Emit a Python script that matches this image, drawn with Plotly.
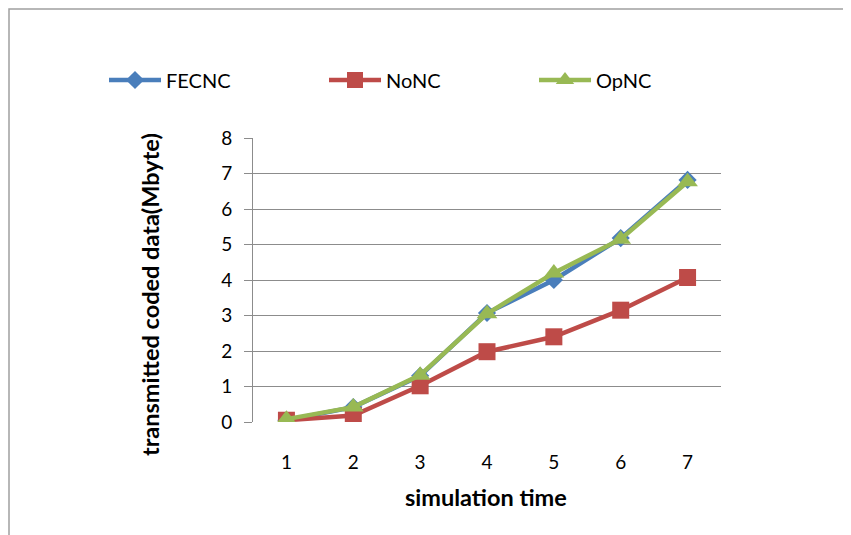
import plotly.graph_objects as go

x = [1, 2, 3, 4, 5, 6, 7]
fecnc = [0.05, 0.42, 1.3, 3.07, 4.0, 5.18, 6.82]
nonc = [0.05, 0.18, 1.02, 1.98, 2.4, 3.15, 4.07]
opnc = [0.08, 0.42, 1.32, 3.05, 4.2, 5.15, 6.77]

blue = "#4A7EBB"
red = "#BE4B48"
green = "#98B954"

fig = go.Figure()
fig.add_trace(go.Scatter(x=x, y=fecnc, name="FECNC", mode="lines+markers",
                         line=dict(color=blue, width=4.5), legend="legend",
                         marker=dict(symbol="diamond", size=14, color=blue)))
fig.add_trace(go.Scatter(x=x, y=nonc, name="NoNC", mode="lines+markers",
                         line=dict(color=red, width=4.5), legend="legend2",
                         marker=dict(symbol="square", size=17, color=red)))
fig.add_trace(go.Scatter(x=x, y=opnc, name="OpNC", mode="lines+markers",
                         line=dict(color=green, width=4.5), legend="legend3",
                         marker=dict(symbol="triangle-up", size=18, color=green)))

OFF = 8  # page offset of the rendered figure
W, H = 851, 535
# target plot area in screenshot pixels
PX0, PX1, PY0, PY1 = 253, 721, 138, 422
L = PX0 - OFF
T = PY0 - OFF
pw, ph = PX1 - PX0, PY1 - PY0
R = W - L - pw
B = H - T - ph

def px_x(p):
    return (p - PX0) / pw

def px_y(p):
    return (PY1 - p) / ph

FONT = "Lato"

def leg(px):
    return dict(orientation="h", x=px_x(px), y=px_y(80), xanchor="left", yanchor="middle",
                font=dict(size=20), itemwidth=52, bgcolor="rgba(0,0,0,0)")

fig.update_layout(
    width=W, height=H,
    margin=dict(l=L, r=R, t=T, b=B),
    paper_bgcolor="white", plot_bgcolor="white",
    font=dict(family=FONT, size=19, color="black"),
    showlegend=True,
    legend=leg(104),
    legend2=leg(324),
    legend3=leg(534),
    xaxis=dict(range=[0.5, 7.5], tickvals=x, ticktext=[str(v) for v in x],
               showgrid=False, zeroline=False, showline=False, ticks="",
               tickfont=dict(size=19), ticklabelstandoff=27),
    yaxis=dict(range=[0, 8], dtick=1, showgrid=True, gridcolor="#8C8C8C", gridwidth=1,
               zeroline=False, showline=True, linecolor="#8C8C8C", linewidth=1,
               ticks="outside", ticklen=8, tickcolor="#8C8C8C",
               tickfont=dict(size=19), ticklabelstandoff=8),
    annotations=[
        dict(text="<b>transmitted coded data(Mbyte)</b>", xref="paper", yref="paper",
             x=px_x(150), y=px_y(295), textangle=-90, showarrow=False,
             font=dict(size=23.5), xanchor="center", yanchor="middle"),
        dict(text="<b>simulation time</b>", xref="paper", yref="paper",
             x=px_x(486), y=px_y(497), showarrow=False,
             font=dict(size=23.5), xanchor="center", yanchor="middle"),
    ],
    shapes=[
        dict(type="rect", xref="paper", yref="paper",
             x0=px_x(OFF + 1), x1=px_x(W + 20), y0=px_y(H + 20), y1=px_y(OFF + 1),
             line=dict(color="#A0A0A0", width=1.5), fillcolor="rgba(0,0,0,0)", layer="below"),
    ],
)

fig.write_html("out.html")
